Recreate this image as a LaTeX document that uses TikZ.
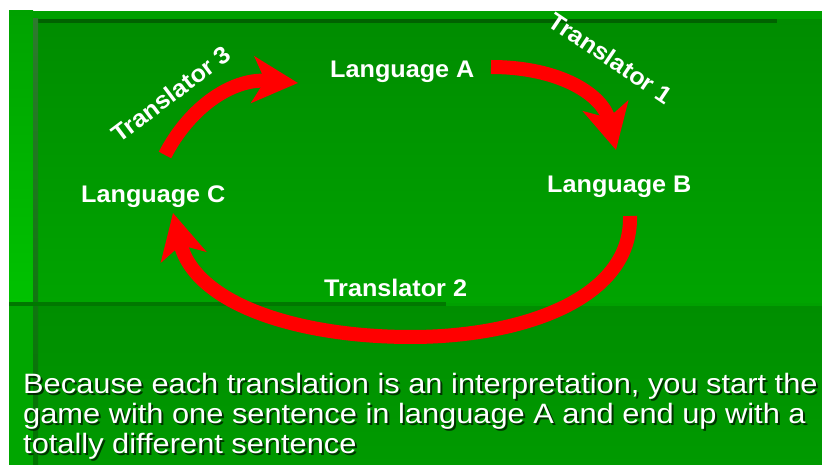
\documentclass[tikz,border=0pt]{standalone}
\usepackage{fontspec}
\setmainfont{Liberation Sans}
\newfontfamily\lblfont[FakeStretch=1.05]{Liberation Sans}
\newfontfamily\parfont[FakeStretch=1.10]{Liberation Sans}
\usetikzlibrary{arrows.meta}
\definecolor{bandgreen}{HTML}{00A000}
\definecolor{striptop}{HTML}{00A200}
\definecolor{stripbot}{HTML}{00C200}
\definecolor{striplow}{HTML}{00A600}
\definecolor{paneltop}{HTML}{008C00}
\definecolor{panelbot}{HTML}{00A400}
\definecolor{lowtop}{HTML}{008E00}
\definecolor{lowbot}{HTML}{009A00}
\definecolor{darkline}{HTML}{006200}
\definecolor{vlinetop}{HTML}{2E7A2E}
\definecolor{vlinebot}{HTML}{007400}
\definecolor{hline}{HTML}{007800}
\tikzset{
  lbl/.style={text=white, font=\lblfont\bfseries\fontsize{24}{28}\selectfont, inner sep=0pt},
  partext/.style={text=white, font=\parfont\fontsize{28}{30}\selectfont, inner sep=0pt, anchor=base west},
  parshadow/.style={text=black, text opacity=0.65, font=\parfont\fontsize{28}{30}\selectfont, inner sep=0pt, anchor=base west},
  redarrow/.style={draw=red, line width=14pt, -{Stealth[length=45pt,width=46pt,inset=12pt]}}
}
\begin{document}
\begin{tikzpicture}[x=1pt,y=-1pt]
\useasboundingbox (0,0) rectangle (822,465);
\fill[white] (0,0) rectangle (822,465);
% background
\fill[bandgreen] (9,11) rectangle (822,465);
\shade[top color=striptop, bottom color=stripbot] (9,11) rectangle (33,303);
\fill[striplow] (9,303) rectangle (33,465);
\shade[top color=paneltop, bottom color=panelbot] (38,19) rectangle (822,302);
\fill[bandgreen] (33,11) rectangle (822,19);
\shade[top color=lowtop, bottom color=lowbot] (38,306) rectangle (822,465);
\fill[darkline] (33,19) rectangle (777,23);
\shade[top color=vlinetop, bottom color=vlinebot] (33,19) rectangle (38,465);
\fill[hline] (9,302) rectangle (446,306);
% labels
\node[lbl, anchor=base west] (A) at (330,78) {Language A};
\node[lbl, anchor=base west] (B) at (547,193) {Language B};
\node[lbl, anchor=base west] (C) at (81,203) {Language C};
\node[lbl, anchor=base west] (T2) at (324,296) {Translator 2};
\node[lbl, anchor=center, rotate=37] (T3) at (171,94) {Translator 3};
\node[lbl, anchor=center, rotate=-34] (T1) at (611,58) {Translator 1};
% connector end points
\coordinate (a1s) at (491,67);
\coordinate (a1e) at (616,150);
\coordinate (a2s) at (630,216);
\coordinate (a2m) at (411,337);
\coordinate (a2e) at (173,213);
\coordinate (a3s) at (165,155);
\coordinate (a3e) at (298,83);
% arrows
\draw[redarrow] (a1s) .. controls (560,67) and (603,95) .. (a1e);
\draw[redarrow] (a2s) .. controls (632,300) and (520,337) .. (a2m) .. controls (300,337) and (195,305) .. (a2e);
\draw[redarrow] (a3s) .. controls (188,110) and (230,78) .. (a3e);
% paragraph
\node[parshadow] (s1) at (25,395) {Because each translation is an interpretation, you start the};
\node[parshadow] (s2) at (25,425) {game with one sentence in language A and end up with a};
\node[parshadow] (s3) at (25,455) {totally different sentence};
\node[partext] (p1) at (23,393) {Because each translation is an interpretation, you start the};
\node[partext] (p2) at (23,423) {game with one sentence in language A and end up with a};
\node[partext] (p3) at (23,453) {totally different sentence};
\end{tikzpicture}
\end{document}
